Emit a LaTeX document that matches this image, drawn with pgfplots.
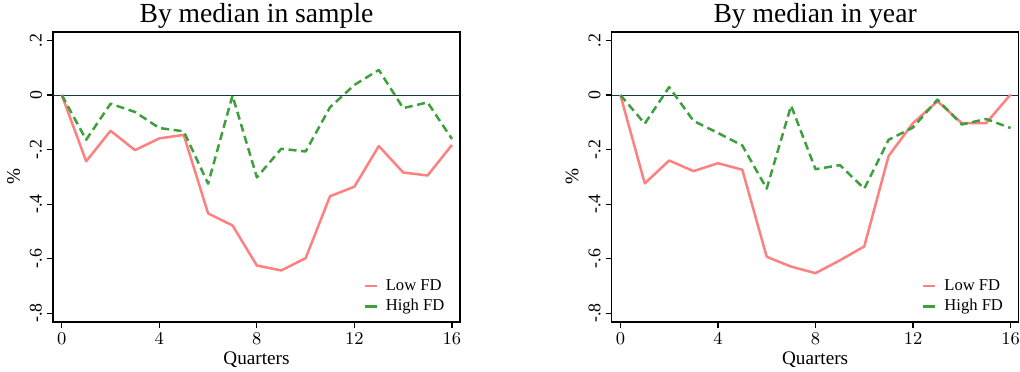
\documentclass[border=0pt]{standalone}
\usepackage{pgfplots}
\pgfplotsset{compat=1.18}
\usepackage{fontspec}
\setmainfont{Liberation Serif}
\definecolor{lowfd}{RGB}{255,128,128}
\definecolor{highfd}{RGB}{61,160,61}
\definecolor{zeroline}{RGB}{26,52,72}
\pgfplotsset{
  panel/.style={
    width=203.5pt, height=145pt, scale only axis,
    anchor=south west,
    xmin=-0.36, xmax=16.33, ymin=-0.832, ymax=0.231,
    xtick={0,4,8,12,16},
    ytick={-0.8,-0.6,-0.4,-0.2,0,0.2},
    yticklabels={-.8,-.6,-.4,-.2,0,.2},
    tick align=outside, tick pos=left,
    major tick length=3pt,
    tick style={black, line width=0.6pt},
    axis line style={black, line width=0.6pt},
    ticklabel style={font=\fontsize{8.9}{9}\selectfont},
    yticklabel style={rotate=90, anchor=south, yshift=-1pt},
    xticklabel style={yshift=1pt},
    xlabel={Quarters},
    ylabel={\%},
    label style={font=\fontsize{9.6}{10}\selectfont},
    xlabel style={yshift=3.5pt},
    ylabel style={yshift=-2pt},
    title style={font=\fontsize{13.8}{14}\selectfont, at={(0.5,1)}, anchor=base, yshift=-1.3pt},
    legend style={draw=none, fill=none, at={(0.997,0.0)}, anchor=south east,
      font=\fontsize{8.3}{9}\selectfont, row sep=-1pt,
      legend cell align=left,
      nodes={inner xsep=4pt}},
    legend image code/.code={\draw[#1, line width=1.3pt, solid] (0pt,0pt) -- (6pt,0pt);},
  },
  lowstyle/.style={lowfd, line width=1.25pt, line join=round},
  highstyle/.style={highfd, line width=1.25pt, dash pattern=on 4pt off 2.3pt, line join=round},
}
\begin{document}
\begin{tikzpicture}
\useasboundingbox (0,0) rectangle (510pt,185.5pt);
\begin{axis}[panel, at={(26.5pt,24.5pt)}, title={By median in sample}]
\draw[zeroline, line width=0.5pt] (axis cs:-0.36,0) -- (axis cs:16.33,0);
\addplot[lowstyle] coordinates {
(0,0) (1,-0.243) (2,-0.131) (3,-0.202) (4,-0.159) (5,-0.146) (6,-0.434) (7,-0.478)
(8,-0.625) (9,-0.643) (10,-0.598) (11,-0.371) (12,-0.336) (13,-0.187) (14,-0.284)
(15,-0.295) (16,-0.183)};
\addlegendentry{Low FD}
\addplot[highstyle] coordinates {
(0,0) (1,-0.164) (2,-0.032) (3,-0.062) (4,-0.121) (5,-0.133) (6,-0.325) (7,-0.002)
(8,-0.302) (9,-0.197) (10,-0.207) (11,-0.045) (12,0.037) (13,0.092) (14,-0.048)
(15,-0.027) (16,-0.161)};
\addlegendentry{High FD}
\end{axis}
\begin{axis}[panel, at={(305.8pt,24.5pt)}, title={By median in year}]
\draw[zeroline, line width=0.5pt] (axis cs:-0.36,0) -- (axis cs:16.33,0);
\addplot[lowstyle] coordinates {
(0,0) (1,-0.324) (2,-0.240) (3,-0.279) (4,-0.250) (5,-0.274) (6,-0.593) (7,-0.629)
(8,-0.653) (9,-0.606) (10,-0.555) (11,-0.223) (12,-0.103) (13,-0.023) (14,-0.103)
(15,-0.103) (16,0.002)};
\addlegendentry{Low FD}
\addplot[highstyle] coordinates {
(0,0) (1,-0.105) (2,0.029) (3,-0.095) (4,-0.139) (5,-0.185) (6,-0.343) (7,-0.039)
(8,-0.272) (9,-0.257) (10,-0.343) (11,-0.164) (12,-0.119) (13,-0.017) (14,-0.108)
(15,-0.088) (16,-0.121)};
\addlegendentry{High FD}
\end{axis}
\end{tikzpicture}
\end{document}
